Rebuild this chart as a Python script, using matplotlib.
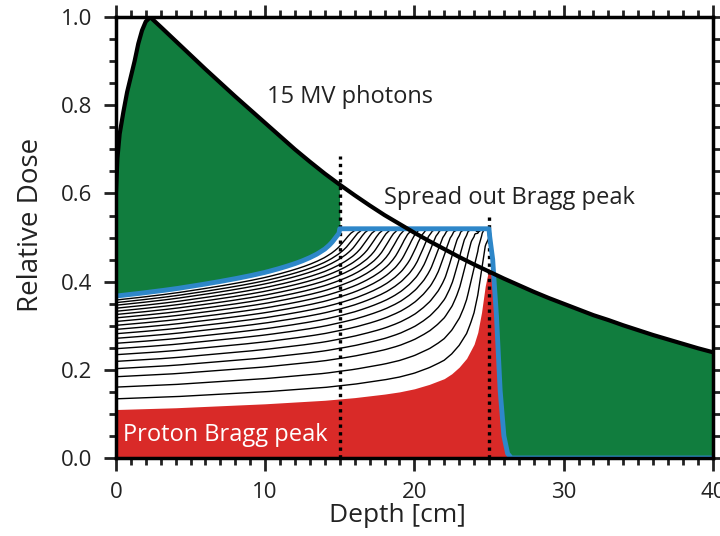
import numpy as np
import matplotlib
matplotlib.use("Agg")
import matplotlib.pyplot as plt
from matplotlib.ticker import MultipleLocator, FormatStrFormatter

plt.rcParams['font.family'] = ['Open Sans', 'DejaVu Sans']

# 15 MV photon depth dose
photon_depth = [0, 0.1, 0.25, 0.5, 0.75, 1.0, 1.25, 1.5, 1.75, 2.0, 2.3, 3, 4, 5, 6, 7, 8, 9, 10,
                11, 12, 13, 14, 15, 16, 17, 18, 19, 20, 21, 22, 23, 24, 25, 26, 27, 28, 29,
                30, 31, 32, 33, 34, 35, 36, 37, 38, 39, 40]
photon_dose = [0.60, 0.68, 0.735, 0.785, 0.83, 0.865, 0.90, 0.94, 0.97, 0.99, 1.0, 0.978, 0.946,
               0.914, 0.882, 0.851, 0.82, 0.79, 0.76, 0.73, 0.70, 0.672, 0.645, 0.62, 0.596,
               0.573, 0.551, 0.531, 0.511, 0.492, 0.474, 0.456, 0.439, 0.423, 0.407, 0.392,
               0.377, 0.363, 0.350, 0.337, 0.324, 0.313, 0.301, 0.290, 0.279, 0.269, 0.259,
               0.249, 0.240]

# single (deepest) proton Bragg peak, range 25 cm
bragg_depth = [0, 2, 4, 6, 8, 10, 12, 14, 16, 18, 19, 20, 21, 22, 22.5, 23, 23.5, 24, 24.25,
               24.5, 24.75, 25, 25.25, 25.5, 25.75, 26, 26.25, 26.5, 40]
bragg_dose = [0.110, 0.112, 0.114, 0.117, 0.120, 0.123, 0.127, 0.131, 0.137, 0.145, 0.150,
              0.157, 0.167, 0.180, 0.191, 0.206, 0.226, 0.258, 0.285, 0.33, 0.39, 0.43, 0.41,
              0.31, 0.15, 0.05, 0.01, 0.0, 0.0]

# ranges of the stacked peaks (deepest first) and plateau level
peak_ranges = [25.0, 24.52, 24.05, 23.57, 23.10, 22.62, 22.14, 21.67, 21.19, 20.71, 20.24,
               19.76, 19.29, 18.81, 18.33, 17.86, 17.38, 16.90, 16.43, 15.95, 15.48, 15.0]
plateau = 0.52
sobp_edges = [15, 25]

xs = np.arange(0, 40.001, 0.05)
R0 = peak_ranges[0]


def peak(x, r):
    return np.interp(np.asarray(x) + (R0 - r), bragg_depth, bragg_dose, right=0.0)


# weights: deepest peak as drawn, the others fitted (non-negative, smooth) to a flat plateau
fit_x = np.arange(sobp_edges[0], sobp_edges[1] + 0.001, 0.05)
A = np.array([peak(fit_x, r) for r in peak_ranges]).T
b = plateau - A[:, 0]
M = A[:, 1:]
n = M.shape[1]
D = np.diff(np.eye(n), axis=0)
lam = 0.08
H = M.T @ M + lam * D.T @ D
step = 1.0 / np.linalg.norm(H, 2)
w_rest = np.full(n, 0.1)
for _ in range(30000):
    w_rest = np.maximum(0, w_rest - step * (H @ w_rest - M.T @ b))
w = np.concatenate([[1.0], w_rest])

partial = np.cumsum([wi * peak(xs, r) for wi, r in zip(w, peak_ranges)], axis=0)
partial = np.minimum(partial, plateau)
total = partial[-1]
# the spread out peak is flat between its edges
total = np.where((xs >= sobp_edges[0]) & (xs <= sobp_edges[1]), plateau, total)
photon = np.interp(xs, photon_depth, photon_dose)

green = '#117d3e'
red = '#d92a28'
blue = '#2e87c9'
ink = '#222222'

fig = plt.figure(figsize=(7.2, 5.36), dpi=100)
ax = fig.add_axes([0.161, 0.1455, 0.829, 0.8225])

ax.fill_between(xs, total, photon, where=(xs <= 15) | ((xs >= 24) & (photon >= total)),
                interpolate=True, color=green, lw=0, zorder=1)
ax.fill_between(xs, 0, partial[0], color=red, lw=0, zorder=2)
for k in range(1, len(peak_ranges) - 1):
    ax.plot(xs, partial[k], color='black', lw=1.0, zorder=3)

ax.plot([sobp_edges[0]] * 2, [0, 0.685], color='black', lw=2.4, ls=(0, (1, 1.3)), zorder=4)
ax.plot([sobp_edges[1]] * 2, [0, 0.555], color='black', lw=2.4, ls=(0, (1, 1.3)), zorder=4)

ax.plot(xs, total, color=blue, lw=3.5, zorder=5)
ax.plot(photon_depth, photon_dose, color='black', lw=3, zorder=6)

ax.text(15.7, 0.82, '15 MV photons', fontsize=17, ha='center', va='center', color=ink)
ax.text(26.4, 0.59, 'Spread out Bragg peak', fontsize=17, ha='center', va='center', color=ink)
ax.text(0.5, 0.052, 'Proton Bragg peak', fontsize=17, ha='left', va='center', color='white', zorder=7)

ax.set_xlim(0, 40)
ax.set_ylim(0, 1.0)
ax.xaxis.set_major_locator(MultipleLocator(10))
ax.xaxis.set_minor_locator(MultipleLocator(1))
ax.yaxis.set_major_locator(MultipleLocator(0.2))
ax.yaxis.set_minor_locator(MultipleLocator(0.05))
ax.yaxis.set_major_formatter(FormatStrFormatter('%.1f'))
ax.tick_params(which='both', direction='out', top=True, right=True, width=2, labelsize=16,
               colors=ink, labelcolor=ink)
ax.tick_params(which='major', length=9, pad=8)
ax.tick_params(which='minor', length=5)
for s in ax.spines.values():
    s.set_linewidth(2.5)
    s.set_zorder(8)

ax.set_xlabel('Depth [cm]', fontsize=19, color=ink)
ax.set_ylabel('Relative Dose', fontsize=20, color=ink)
ax.xaxis.set_label_coords(0.472, -0.102)
ax.yaxis.set_label_coords(-0.119, 0.528)

fig.savefig('out.png', dpi=100)
